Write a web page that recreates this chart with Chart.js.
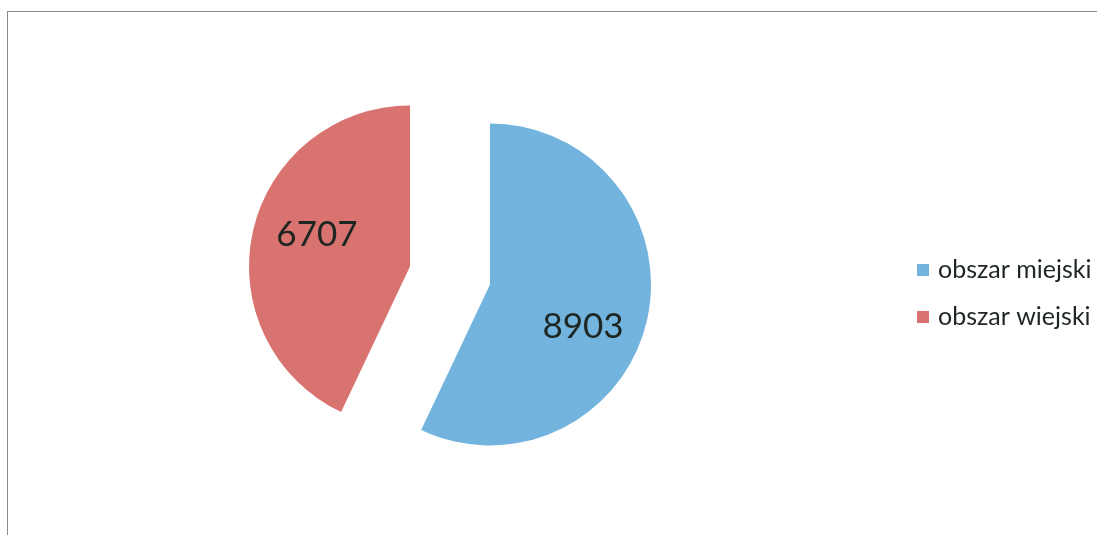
<!DOCTYPE html>
<html>
<head>
<meta charset="utf-8">
<script src="https://cdn.jsdelivr.net/npm/chart.js@4"></script>
<style>
    html, body { margin: 0; padding: 0; background: #fff; }
    #wrap { position: relative; width: 1097px; height: 535px; }
    #frame { position: absolute; left: 7px; top: 11px; right: -2px; bottom: -2px;
             border-top: 1px solid #8a8a8a; border-left: 1px solid #8a8a8a; }
    canvas { position: absolute; left: 0; top: 0; }
</style>
</head>
<body>
<div id="wrap">
    <div id="frame"></div>
    <canvas id="pie-chart" width="1097" height="535"></canvas>
</div>
<script>
const categories = ['obszar miejski', 'obszar wiejski'];
const values = [8903, 6707];
const colors = ['rgb(114, 180, 222)', 'rgb(217, 115, 111)'];

const pieRadius = 161;
const explode = 41;

// draw each slice pulled out along its middle angle, then its value
const explodedPie = {
    id: 'explodedPie',
    beforeDatasetsDraw(chart) {
        const ctx = chart.ctx;
        const meta = chart.getDatasetMeta(0);
        meta.data.forEach(arc => {
            const mid = (arc.startAngle + arc.endAngle) / 2;
            ctx.save();
            ctx.translate(Math.cos(mid) * explode, Math.sin(mid) * explode);
            arc.draw(ctx);
            ctx.restore();
        });

        ctx.save();
        ctx.font = '35px Lato';
        ctx.fillStyle = '#1e2622';
        ctx.textAlign = 'center';
        ctx.textBaseline = 'middle';
        meta.data.forEach((arc, i) => {
            const a = (arc.startAngle + arc.endAngle) / 2 + 0.113;
            const d = explode + pieRadius * 0.62;
            ctx.fillText(String(chart.data.datasets[0].data[i]), arc.x + Math.cos(a) * d, arc.y + Math.sin(a) * d + 5);
        });
        ctx.restore();
        return false;
    }
};

// legend on the right
const sideLegend = {
    id: 'sideLegend',
    afterDraw(chart) {
        const ctx = chart.ctx;
        ctx.save();
        ctx.font = '25px Lato';
        ctx.textBaseline = 'middle';
        chart.data.labels.forEach((label, i) => {
            const y = 270 + i * 47;
            ctx.fillStyle = chart.data.datasets[0].backgroundColor[i];
            ctx.fillRect(917, y - 6, 12, 12);
            ctx.fillStyle = '#1e2622';
            ctx.fillText(label, 938, y);
        });
        ctx.restore();
    }
};

const context = document.getElementById('pie-chart').getContext('2d');

const chartPie = new Chart(context, {
    type: 'pie',
    data: {
        labels: categories,
        datasets: [{
            data: values,
            backgroundColor: colors,
            borderWidth: 0,
            offset: 0,
            hoverOffset: 0,
            radius: pieRadius
        }]
    },
    options: {
        responsive: false,
        animation: false,
        layout: {
            padding: { left: 0, right: 197, top: 16, bottom: 0 }
        },
        plugins: {
            legend: { display: false },
            tooltip: { enabled: false }
        }
    },
    plugins: [explodedPie, sideLegend]
});
</script>
</body>
</html>
